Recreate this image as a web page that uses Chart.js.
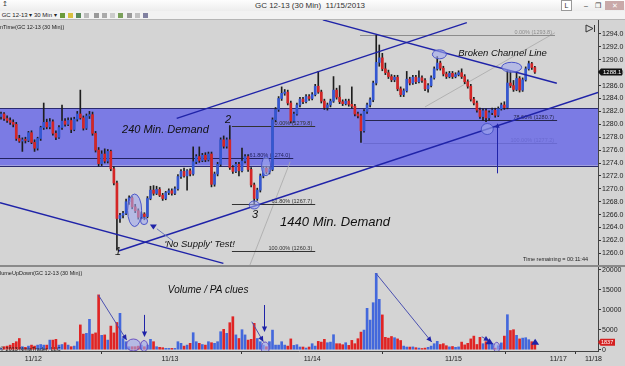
<!DOCTYPE html>
<html>
<head>
<meta charset="utf-8">
<script src="https://cdn.jsdelivr.net/npm/chart.js@4.4.1/dist/chart.umd.min.js"></script>
<style>
body { margin: 0; width: 625px; height: 366px; overflow: hidden; background: #d4d4d4; position: relative; font-family: Arial, "Liberation Sans", sans-serif; }
#titlebar { position: absolute; left: 0; top: 0; width: 625px; height: 11px; background: linear-gradient(#fdfdfd, #ededed); font-size: 8px; color: #333; }
#titlebar .t { position: absolute; left: 0; width: 620px; top: 1px; text-align: center; }
#titlebar .b { position: absolute; top: 1px; height: 9px; font-size: 7px; line-height: 9px; text-align: center; color: #333; }
#tools { position: absolute; left: 0; top: 11px; width: 625px; height: 8px; background: #f2f2f2; border-bottom: 1px solid #b5b5b5; font-size: 6px; line-height: 8px; color: #222; white-space: nowrap; }
#tools i { display: inline-block; width: 5px; height: 5px; margin: 0 1.5px; vertical-align: middle; }
canvas { position: absolute; left: 0; }
#sep { position: absolute; left: 0; top: 265px; width: 625px; height: 2px; background: #8a8a8a; }
</style>
</head>
<body>
<div id="titlebar">
  <span style="position:absolute;left:2px;top:0;font-size:7px">&#8613;</span>
  <div class="t">GC 12-13 (30 Min)&nbsp;&nbsp;11/15/2013</div>
  <div class="b" style="left:561px;width:9px;background:#fff;border:1px solid #999;top:0">L</div>
  <div class="b" style="left:582px;width:8px">&#8211;</div>
  <div class="b" style="left:594px;width:8px">&#10064;</div>
  <div class="b" style="left:605px;width:19px;background:#c9a9a9;color:#fff">&#10005;</div>
</div>
<div id="tools">
  &nbsp;GC 12-13 &#9662; 30 Min &#9662;
  <i style="background:#6a9a3a"></i><i style="background:#d8c040"></i><i style="background:#5a8a5a"></i><i style="background:#bbb"></i>
  <i style="background:#999"></i><i style="background:#aaa"></i><i style="background:#ccc"></i><i style="background:#7aa05a"></i>
  <i style="background:#9a9a9a"></i><i style="background:#c0c0c0"></i><i style="background:#8080a0"></i>
</div>
<canvas id="price" width="625" height="245" style="top:20px"></canvas>
<div id="sep"></div>
<canvas id="vol" width="625" height="99" style="top:267px"></canvas>
<script>
// 30 min bars, GC 12-13, one value per bar
const opens = [
  1281.2,1281.6,1280.9,1280.6,1280.3,1280.0,1277.8,1277.4,1277.6,1277.5,
  1278.7,1277.2,1276.3,1277.8,1279.5,1280.3,1279.6,1280.4,1278.6,1278.0,
  1279.5,1280.5,1280.0,1280.6,1279.2,1280.8,1281.6,1281.0,1279.4,1281.3,
  1281.5,1278.6,1276.0,1273.9,1275.4,1274.3,1275.8,1273.1,1270.9,1265.4,
  1265.9,1266.2,1268.0,1268.6,1267.2,1266.6,1265.6,1266.1,1265.7,1268.5,
  1269.8,1269.3,1269.9,1269.0,1268.5,1269.4,1269.7,1269.3,1270.0,1271.9,
  1272.7,1272.0,1272.8,1272.3,1274.2,1275.0,1274.4,1275.2,1274.5,1275.4,
  1270.7,1272.3,1273.8,1277.6,1276.6,1277.6,1273.3,1272.7,1273.8,1272.8,
  1274.3,1275.0,1273.0,1270.6,1268.5,1269.8,1272.0,1273.2,1272.6,1273.0,
  1280.7,1282.3,1284.0,1284.8,1285.0,1283.3,1280.5,1281.6,1283.0,1283.9,
  1283.5,1284.3,1284.0,1284.6,1285.9,1285.0,1283.6,1282.6,1283.0,1283.6,
  1285.3,1284.2,1283.5,1283.2,1283.6,1283.1,1282.8,1281.6,1281.3,1279.0,
  1282.0,1283.0,1283.8,1286.4,1289.6,1290.3,1288.6,1288.0,1287.4,1286.9,
  1287.3,1285.5,1284.6,1285.2,1287.0,1286.4,1287.3,1286.6,1287.2,1286.8,
  1285.5,1286.0,1287.2,1288.6,1289.5,1288.7,1287.8,1287.4,1287.9,1287.4,
  1287.7,1288.0,1287.4,1286.6,1285.9,1283.9,1283.3,1282.2,1281.2,1282.1,
  1281.0,1281.8,1282.2,1281.4,1282.4,1283.0,1282.6,1286.4,1286.0,1285.4,
  1287.1,1285.3,1286.9,1288.6,1289.4,1288.8
];
const highs = [
  1281.9,1281.8,1281.3,1281.0,1280.7,1280.3,1278.3,1277.9,1278.0,1278.9,
  1279.0,1277.6,1278.0,1279.7,1283.3,1280.8,1280.9,1280.7,1279.0,1279.8,
  1283.0,1280.9,1281.0,1281.0,1281.1,1282.0,1285.3,1281.3,1281.6,1282.0,
  1281.9,1278.9,1276.4,1275.9,1276.2,1276.1,1276.0,1273.4,1271.2,1266.2,
  1266.5,1268.4,1268.9,1268.8,1267.6,1266.9,1266.4,1266.3,1268.8,1270.4,
  1270.5,1270.4,1270.2,1269.3,1269.6,1270.0,1270.0,1270.3,1272.2,1273.0,
  1273.2,1273.0,1273.1,1276.5,1275.3,1276.5,1275.5,1275.6,1275.7,1275.7,
  1272.6,1274.1,1277.9,1278.2,1277.9,1279.8,1273.6,1274.1,1274.1,1276.3,
  1275.3,1275.3,1273.3,1270.9,1270.1,1272.3,1273.5,1273.5,1273.4,1281.0,
  1282.6,1284.3,1285.8,1285.4,1285.3,1283.6,1281.9,1283.3,1284.2,1284.2,
  1284.6,1284.6,1284.9,1286.2,1288.2,1285.3,1283.9,1283.3,1283.9,1287.4,
  1285.6,1286.0,1283.8,1283.9,1283.9,1285.8,1283.1,1281.9,1281.6,1282.3,
  1283.3,1284.1,1286.7,1293.8,1292.3,1291.0,1289.5,1288.4,1287.7,1287.6,
  1287.6,1285.8,1285.5,1288.2,1287.3,1287.6,1287.6,1288.3,1287.5,1287.1,
  1286.3,1287.5,1288.9,1290.5,1289.8,1289.0,1288.1,1288.2,1288.2,1288.0,
  1288.3,1288.6,1287.7,1286.9,1286.2,1284.2,1283.6,1282.5,1282.4,1282.4,
  1282.1,1282.5,1282.5,1282.7,1283.3,1283.5,1288.4,1288.2,1286.8,1287.9,
  1287.4,1287.2,1288.9,1289.8,1289.6,1289.0
];
const lows = [
  1280.8,1280.6,1280.3,1280.0,1279.6,1277.5,1277.2,1275.8,1277.1,1277.3,
  1277.0,1275.8,1276.0,1277.5,1279.2,1279.3,1279.3,1278.3,1277.6,1277.8,
  1279.2,1279.7,1279.8,1278.7,1279.0,1280.5,1280.8,1279.1,1279.2,1280.9,
  1278.3,1275.7,1273.5,1273.6,1274.0,1274.0,1272.8,1270.6,1260.5,1264.8,
  1265.5,1266.0,1267.6,1266.9,1266.3,1265.3,1265.4,1265.2,1265.5,1268.3,
  1269.0,1269.1,1268.8,1268.2,1268.3,1269.1,1269.0,1269.1,1269.8,1271.6,
  1271.8,1269.8,1272.0,1272.1,1273.9,1274.1,1274.2,1274.2,1274.3,1270.3,
  1270.4,1272.0,1273.5,1276.3,1276.3,1273.0,1272.4,1272.5,1272.0,1272.6,
  1274.0,1272.7,1270.3,1267.7,1268.2,1269.5,1271.7,1272.3,1272.3,1272.8,
  1280.4,1282.0,1283.7,1284.5,1283.0,1280.2,1280.3,1281.4,1282.7,1283.2,
  1283.3,1283.7,1283.8,1284.4,1284.8,1283.3,1282.3,1282.2,1282.7,1283.4,
  1283.9,1283.2,1282.9,1283.0,1282.8,1282.5,1281.3,1281.0,1277.2,1278.8,
  1281.7,1282.7,1283.5,1286.1,1289.0,1288.3,1287.7,1287.1,1286.6,1286.6,
  1285.2,1284.3,1284.3,1285.0,1286.1,1286.2,1286.3,1286.4,1286.5,1285.2,
  1285.0,1285.8,1287.0,1288.4,1288.4,1287.5,1287.1,1287.2,1287.1,1287.2,
  1287.5,1287.1,1286.3,1285.6,1283.6,1283.0,1281.9,1280.9,1280.6,1280.4,
  1280.6,1281.5,1281.1,1281.2,1282.2,1282.3,1282.4,1285.7,1285.1,1285.2,
  1285.0,1285.1,1286.7,1288.4,1288.5,1287.9
];
const closes = [
  1281.6,1280.9,1280.6,1280.3,1280.0,1277.8,1277.4,1277.6,1277.5,1278.7,
  1277.2,1276.3,1277.8,1279.5,1280.3,1279.6,1280.4,1278.6,1278.0,1279.5,
  1280.5,1280.0,1280.6,1279.2,1280.8,1281.6,1281.0,1279.4,1281.3,1281.5,
  1278.6,1276.0,1273.9,1275.4,1274.3,1275.8,1273.1,1270.9,1265.4,1265.9,
  1266.2,1268.0,1268.6,1267.2,1266.6,1265.6,1266.1,1265.7,1268.5,1269.8,
  1269.3,1269.9,1269.0,1268.5,1269.4,1269.7,1269.3,1270.0,1271.9,1272.7,
  1272.0,1272.8,1272.3,1274.2,1275.0,1274.4,1275.2,1274.5,1275.4,1270.7,
  1272.3,1273.8,1277.6,1276.6,1277.6,1273.3,1272.7,1273.8,1272.8,1274.3,
  1275.0,1273.0,1270.6,1268.5,1269.8,1272.0,1273.2,1272.6,1273.0,1280.7,
  1282.3,1284.0,1284.8,1285.0,1283.3,1280.5,1281.6,1283.0,1283.9,1283.5,
  1284.3,1284.0,1284.6,1285.9,1285.0,1283.6,1282.6,1283.0,1283.6,1285.3,
  1284.2,1283.5,1283.2,1283.6,1283.1,1282.8,1281.6,1281.3,1279.0,1282.0,
  1283.0,1283.8,1286.4,1289.6,1290.3,1288.6,1288.0,1287.4,1286.9,1287.3,
  1285.5,1284.6,1285.2,1287.0,1286.4,1287.3,1286.6,1287.2,1286.8,1285.5,
  1286.0,1287.2,1288.6,1289.5,1288.7,1287.8,1287.4,1287.9,1287.4,1287.7,
  1288.0,1287.4,1286.6,1285.9,1283.9,1283.3,1282.2,1281.2,1282.1,1281.0,
  1281.8,1282.2,1281.4,1282.4,1283.0,1282.6,1286.4,1286.0,1285.4,1287.1,
  1285.3,1286.9,1288.6,1289.4,1288.8,1288.1
];
const volumes = [
  330,750,900,1150,1600,2000,2800,750,600,900,
  1150,900,1150,1300,1150,1150,2400,2400,2600,1150,
  1300,1750,1150,750,900,2000,6200,3900,4100,7600,
  3900,4200,13700,3600,3700,2400,5900,4200,6800,9100,
  2800,2000,750,750,750,900,1150,750,1150,2600,
  2000,750,600,500,330,330,330,330,2000,1600,
  900,1150,1600,4250,2000,1600,1300,1150,2000,1750,
  1600,2000,4500,5100,4100,6750,8250,3700,2800,5000,
  3700,2400,2600,6600,2800,2000,1150,750,2000,4900,
  1150,1150,2000,1150,900,2700,1080,1250,670,670,
  420,670,1500,900,2080,1900,2600,1750,1900,3750,
  1500,1500,1250,1750,1080,2330,1500,2750,4400,4900,
  10350,7400,11750,19100,12600,8700,3100,2900,3300,3000,
  2700,2300,900,670,660,700,500,400,300,400,
  600,900,1500,2100,1300,1500,1000,700,800,600,
  700,1900,1200,1600,2700,3400,1300,3100,1500,2000,
  2300,1500,400,1000,1700,3400,8750,4800,5000,3600,
  2700,2900,3000,2500,2000,1837
];

const dayLabels = ['11/12', '11/13', '11/14', '11/15', '11/17', '11/18'];
const dayPos = [10.6, 55.4, 102, 148.3, 182.7, 194.2];
const priceTicks = [1260,1262,1264,1266,1268,1270,1272,1274,1276,1278,1280,1282,1284,1286,1288,1290,1292,1294];
const volTicks = [0, 5000, 10000, 15000, 20000];

// drawings on the chart, in bar index / price units
const demandZone = [1282.5, 1273.6];
const channels = [
  [57.6, 1280.93, 152.7, 1295.75],
  [38.5, 1260.36, 195.7, 1284.93],
  [105.5, 1296.19, 182.2, 1286.36],
  [-0.33, 1267.84, 72.9, 1258.45]
];
const fibs = [
  [1279.8, 75.7, 103, '0.00% (1279.8)', '#333'],
  [1274.8, -0.33, 95.8, '61.80% (1274.0)', '#22225e'],
  [1267.7, 75.7, 103, '61.80% (1267.7)', '#333'],
  [1260.3, 75.7, 103, '100.00% (1260.3)', '#333'],
  [1293.8, 117.7, 181.6, '0.00% (1293.8)', '#8c8c8c'],
  [1280.7, 118.7, 182.3, '78.60% (1280.7)', '#26264e'],
  [1277.15, 118.7, 182.3, '100.00% (1277.2)', '#6a6ad0']
];
const guides = [[81.6, 1258.2, 94.8, 1274.2], [139, 1282.7, 181.6, 1294.2]];
const priceRings = [
  [43.8, 1266.67, 7, 16.3], [46.9, 1265.0, 3.5, 3.5], [83, 1267.5, 5, 4], [86.9, 1273.5, 4.5, 9.5],
  [143.7, 1290.85, 7, 4.5], [167.4, 1288.84, 10, 5], [159.4, 1279.27, 6, 5.5]
];
const notes = [
  [53.9, 1279.1, '240 Min. Demand', 11],
  [74.4, 1280.67, '2', 11],
  [83.3, 1265.94, '3', 11],
  [38.4, 1260.2, '1', 11],
  [65.1, 1261.4, "'No Supply' Test!", 9.5],
  [109.5, 1264.85, '1440 Min. Demand', 13],
  [164.4, 1291.05, 'Broken Channel Line', 9.5]
];
const volArrows = [[31.9, 13700, 41.2, 2400], [82.2, 7000, 86, 2000], [122.9, 19100, 141.2, 1925], [157.6, 3250, 160.1, 2175]];
const volDrops = [[46.9, 8700, 3200], [86.2, 11175, 4425]];
const volRings = [[43.4, 1175, 7, 6], [46.9, 925, 3.5, 5.5], [86.6, 425, 4, 6], [162.5, 600, 3, 5]];
const volMarks = [[160.1, 2000], [175.1, 1850]];

const xMin = -0.33, xMax = 195.7;
const upColor = '#3457d2', downColor = '#d42626';
const navy = '#1f23a8';

const bars = closes.map((c, i) => i);
const bodyColors = bars.map(i => closes[i] >= opens[i] ? upColor : downColor);
const volColors = bars.map(i => closes[i] >= opens[i] ? '#4368dc' : '#e02424');

function line(ctx, x1, y1, x2, y2) {
  ctx.beginPath(); ctx.moveTo(x1, y1); ctx.lineTo(x2, y2); ctx.stroke();
}
function head(ctx, x1, y1, x2, y2, s) {
  const a = Math.atan2(y2 - y1, x2 - x1);
  ctx.beginPath();
  ctx.moveTo(x2, y2);
  ctx.lineTo(x2 - s * Math.cos(a - 0.45), y2 - s * Math.sin(a - 0.45));
  ctx.lineTo(x2 - s * Math.cos(a + 0.45), y2 - s * Math.sin(a + 0.45));
  ctx.closePath(); ctx.fill();
}
function ring(ctx, x, y, rx, ry, stroke) {
  ctx.beginPath(); ctx.ellipse(x, y, rx, ry, 0, 0, Math.PI * 2);
  ctx.fillStyle = 'rgba(160,168,238,0.6)'; ctx.fill();
  ctx.strokeStyle = stroke; ctx.lineWidth = 1; ctx.stroke();
}
// no label padding, so the plot fills its canvas edge to edge
function noPad(s) {
  s.paddingTop = 0; s.paddingBottom = 0; s.paddingLeft = 0; s.paddingRight = 0;
}

const priceOverlay = {
  id: 'priceOverlay',
  beforeDatasetsDraw(chart) {
    const { ctx, chartArea: a, scales: { x, y } } = chart;
    ctx.save();
    const t = y.getPixelForValue(demandZone[0]), b = y.getPixelForValue(demandZone[1]);
    ctx.fillStyle = '#7b7be4';
    ctx.fillRect(a.left, t, a.right - a.left, b - t);
    ctx.strokeStyle = '#2a2a70'; ctx.lineWidth = 1;
    line(ctx, a.left, Math.round(t) + 0.5, a.right, Math.round(t) + 0.5);
    line(ctx, a.left, Math.round(b) + 0.5, a.right, Math.round(b) + 0.5);
    ctx.beginPath(); ctx.rect(a.left, a.top, a.right - a.left, a.bottom - a.top); ctx.clip();
    ctx.lineWidth = 0.8; ctx.strokeStyle = '#a8a8a8';
    guides.forEach(g => line(ctx, x.getPixelForValue(g[0]), y.getPixelForValue(g[1]), x.getPixelForValue(g[2]), y.getPixelForValue(g[3])));
    ctx.font = '5.5px Arial';
    ctx.textAlign = 'right'; ctx.textBaseline = 'alphabetic';
    fibs.forEach(f => {
      const py = Math.round(y.getPixelForValue(f[0])) + 0.5;
      const x1 = x.getPixelForValue(f[1]), x2 = x.getPixelForValue(f[2]);
      ctx.strokeStyle = f[4]; ctx.lineWidth = 1;
      line(ctx, x1, py, x2, py);
      ctx.fillStyle = f[4];
      ctx.fillText(f[3], x2 - 3, py - 2);
    });
    ctx.restore();
  },
  afterDatasetsDraw(chart) {
    const { ctx, chartArea: a, scales: { x, y } } = chart;
    ctx.save();
    ctx.beginPath(); ctx.rect(a.left, a.top, a.right - a.left, a.bottom - a.top); ctx.clip();
    ctx.strokeStyle = navy; ctx.lineWidth = 1.4;
    channels.forEach(c => line(ctx, x.getPixelForValue(c[0]), y.getPixelForValue(c[1]), x.getPixelForValue(c[2]), y.getPixelForValue(c[3])));
    priceRings.forEach(r => ring(ctx, x.getPixelForValue(r[0]), y.getPixelForValue(r[1]), r[2], r[3], '#4b55c8'));
    // arrow under the 11/15 low
    const ax = Math.round(x.getPixelForValue(162.5)) + 0.5;
    ctx.strokeStyle = navy; ctx.fillStyle = navy; ctx.lineWidth = 1;
    line(ctx, ax, y.getPixelForValue(1272.4), ax, y.getPixelForValue(1280.15) + 3);
    head(ctx, ax, y.getPixelForValue(1278), ax, y.getPixelForValue(1280.15), 5);
    // 'No Supply' marker
    const nx = x.getPixelForValue(49.95), ny = y.getPixelForValue(1264.1);
    ctx.beginPath(); ctx.moveTo(nx - 3.5, ny - 2.5); ctx.lineTo(nx + 3.5, ny - 2.5); ctx.lineTo(nx, ny + 2.5); ctx.closePath(); ctx.fill();
    ctx.strokeStyle = '#6c78b8';
    line(ctx, x.getPixelForValue(51.1), y.getPixelForValue(1263.8), x.getPixelForValue(56.4), y.getPixelForValue(1261.9));
    ctx.fillStyle = '#111'; ctx.textAlign = 'center'; ctx.textBaseline = 'middle';
    notes.forEach(n => {
      ctx.font = 'italic ' + n[3] + 'px Arial';
      ctx.fillText(n[2], x.getPixelForValue(n[0]), y.getPixelForValue(n[1]));
    });
    ctx.restore();
  },
  afterDraw(chart) {
    const { ctx, chartArea: a, scales: { y } } = chart;
    ctx.save();
    ctx.fillStyle = '#222'; ctx.font = '5.5px Arial'; ctx.textBaseline = 'middle';
    ctx.textAlign = 'left';
    ctx.fillText('nTime(GC 12-13 (30 Min))', 0, a.top + 7);
    ctx.textAlign = 'right';
    ctx.fillText('Time remaining = 00:11:44', 588, a.bottom - 6);
    // skip-to-end icon
    ctx.strokeStyle = '#333'; ctx.lineWidth = 1;
    ctx.beginPath(); ctx.moveTo(586, 5); ctx.lineTo(593, 8.5); ctx.lineTo(586, 12); ctx.closePath(); ctx.stroke();
    line(ctx, 594.5, 5, 594.5, 12);
    // last price marker
    const last = closes[closes.length - 1];
    const py = y.getPixelForValue(last);
    ctx.fillStyle = '#111';
    ctx.beginPath(); ctx.moveTo(598, py); ctx.lineTo(601, py - 3.5); ctx.lineTo(622, py - 3.5); ctx.lineTo(622, py + 3.5); ctx.lineTo(601, py + 3.5); ctx.closePath(); ctx.fill();
    ctx.fillStyle = '#fff'; ctx.textAlign = 'left'; ctx.font = '6px Arial';
    ctx.fillText(last.toFixed(1), 603, py + 0.5);
    ctx.restore();
  }
};

const volOverlay = {
  id: 'volOverlay',
  afterDatasetsDraw(chart) {
    const { ctx, chartArea: a, scales: { x, y } } = chart;
    ctx.save();
    ctx.beginPath(); ctx.rect(a.left, a.top, a.right - a.left, a.bottom - a.top); ctx.clip();
    volRings.forEach(r => ring(ctx, x.getPixelForValue(r[0]), y.getPixelForValue(r[1]), r[2], r[3], '#6a50c0'));
    ctx.lineWidth = 1;
    volArrows.forEach(v => {
      const x1 = x.getPixelForValue(v[0]), y1 = y.getPixelForValue(v[1]);
      const x2 = x.getPixelForValue(v[2]), y2 = y.getPixelForValue(v[3]);
      ctx.strokeStyle = '#4a50b0'; line(ctx, x1, y1, x2, y2);
      ctx.fillStyle = navy; head(ctx, x1, y1, x2, y2, 6);
    });
    volDrops.forEach(d => {
      const px = Math.round(x.getPixelForValue(d[0])) + 0.5;
      const y1 = y.getPixelForValue(d[1]), y2 = y.getPixelForValue(d[2]);
      ctx.strokeStyle = navy; line(ctx, px, y1, px, y2 - 3);
      ctx.fillStyle = navy; head(ctx, px, y1, px, y2, 6);
    });
    volMarks.forEach(m => {
      const px = x.getPixelForValue(m[0]), py = y.getPixelForValue(m[1]);
      ctx.fillStyle = navy;
      ctx.beginPath(); ctx.moveTo(px, py - 3.5); ctx.lineTo(px + 4, py + 2.5); ctx.lineTo(px - 4, py + 2.5); ctx.closePath(); ctx.fill();
    });
    ctx.fillStyle = '#111'; ctx.font = 'italic 10px Arial';
    ctx.textAlign = 'center'; ctx.textBaseline = 'middle';
    ctx.fillText('Volume / PA clues', x.getPixelForValue(67.9), y.getPixelForValue(14925));
    ctx.restore();
  },
  afterDraw(chart) {
    const { ctx, chartArea: a, scales: { y } } = chart;
    ctx.save();
    ctx.fillStyle = '#222'; ctx.font = '5.5px Arial'; ctx.textBaseline = 'middle'; ctx.textAlign = 'left';
    ctx.fillText('lumeUpDown(GC 12-13 (30 Min))', 0, a.top + 6);
    ctx.fillText('\u00a9 2013 NinjaTrader, LLC', 0, a.bottom - 2);
    const last = volumes[volumes.length - 1];
    const py = y.getPixelForValue(last);
    ctx.fillStyle = '#d42020';
    ctx.beginPath(); ctx.moveTo(598, py); ctx.lineTo(600.5, py - 3.5); ctx.lineTo(615, py - 3.5); ctx.lineTo(615, py + 3.5); ctx.lineTo(600.5, py + 3.5); ctx.closePath(); ctx.fill();
    ctx.fillStyle = '#fff'; ctx.font = '5.5px Arial';
    ctx.fillText(String(last), 601, py + 0.5);
    ctx.restore();
  }
};

const axisFont = { family: 'Arial', size: 7 };

new Chart(document.getElementById('price'), {
  type: 'bar',
  data: {
    datasets: [
      { data: bars.map(i => ({ x: i, y: [opens[i], closes[i]] })), backgroundColor: bodyColors, barThickness: 2, minBarLength: 1, grouped: false, order: 0 },
      { data: bars.map(i => ({ x: i, y: [lows[i], highs[i]] })), backgroundColor: '#1e1e1e', barThickness: 1, grouped: false, order: 1 }
    ]
  },
  options: {
    responsive: false, animation: false, events: [],
    layout: { padding: 0, autoPadding: false },
    plugins: { legend: { display: false }, tooltip: { enabled: false } },
    scales: {
      x: { type: 'linear', min: xMin, max: xMax, offset: false, display: false },
      y: {
        position: 'right', min: 1258.19, max: 1296.17, bounds: 'data',
        afterBuildTicks: s => { s.ticks = priceTicks.map(v => ({ value: v })); },
        afterFit: s => { s.width = 27; noPad(s); },
        ticks: { callback: v => v.toFixed(1), font: axisFont, color: '#222', padding: 1 },
        grid: { drawOnChartArea: false, tickLength: 3, color: '#333' },
        border: { color: '#444' }
      }
    }
  },
  plugins: [priceOverlay]
});

new Chart(document.getElementById('vol'), {
  type: 'bar',
  data: {
    datasets: [
      { data: bars.map(i => ({ x: i, y: volumes[i] })), backgroundColor: volColors, barThickness: 2 }
    ]
  },
  options: {
    responsive: false, animation: false, events: [],
    layout: { padding: 0, autoPadding: false },
    plugins: { legend: { display: false }, tooltip: { enabled: false } },
    scales: {
      x: {
        type: 'linear', min: xMin, max: xMax, offset: false, bounds: 'data',
        afterBuildTicks: s => { s.ticks = dayPos.map(v => ({ value: v })); },
        afterFit: s => { s.height = 15; noPad(s); },
        ticks: { callback: (v, k) => dayLabels[k], autoSkip: false, maxRotation: 0, font: axisFont, color: '#222', padding: 1 },
        grid: { drawOnChartArea: false, tickLength: 3, color: '#333' },
        border: { color: '#444' }
      },
      y: {
        position: 'right', min: -325, max: 20675, bounds: 'data',
        afterBuildTicks: s => { s.ticks = volTicks.map(v => ({ value: v })); },
        afterFit: s => { s.width = 27; noPad(s); },
        ticks: { callback: v => String(v), font: axisFont, color: '#222', padding: 1 },
        grid: { drawOnChartArea: false, tickLength: 3, color: '#333' },
        border: { color: '#444' }
      }
    }
  },
  plugins: [volOverlay]
});
</script>
</body>
</html>
